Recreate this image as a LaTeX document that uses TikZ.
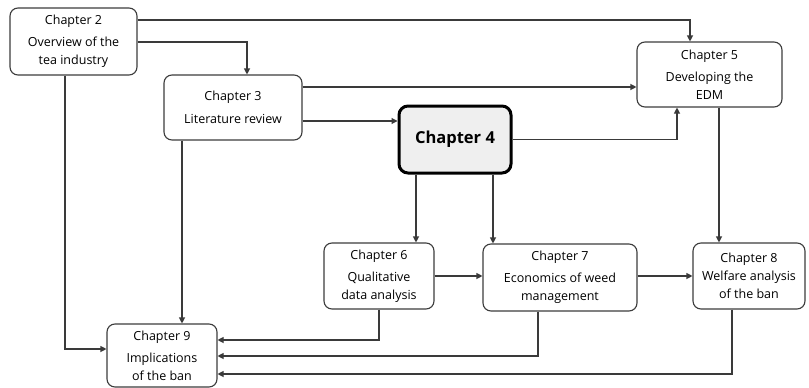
\documentclass[tikz,border=0pt]{standalone}
\usepackage{fontspec}
\setmainfont{Open Sans}
\usetikzlibrary{arrows.meta}
\definecolor{boxc}{HTML}{3C3C3C}
\definecolor{linec}{HTML}{3A3A3A}
\definecolor{hub}{HTML}{EFEFEF}
\begin{document}
\begin{tikzpicture}[x=1pt,y=-1pt,
  box/.style={draw=boxc, line width=1.1pt, rounded corners=8pt, fill=white, align=center, inner sep=0pt, font=\fontsize{12.5}{18}\selectfont},
  hubbox/.style={draw=black, line width=3pt, rounded corners=9pt, fill=hub, align=center, inner sep=0pt, font=\fontsize{16.5}{20}\selectfont\bfseries},
  arr/.style={draw=linec, line width=1.1pt, -{Triangle[length=6pt,width=6pt]}}]
\useasboundingbox[fill=white] (0,0) rectangle (809,388);
\node[box, minimum width=127pt, minimum height=67pt] (ch2) at (73.5,41.5) {Chapter 2\\[4pt]Overview of the\\tea industry};
\node[box, minimum width=138pt, minimum height=65pt] (ch3) at (233,107.5) {Chapter 3\\[5pt]Literature review};
\node[hubbox, minimum width=112pt, minimum height=67pt] (ch4) at (455,139.5) {Chapter 4};
\node[box, minimum width=145pt, minimum height=65pt] (ch5) at (709.5,74.5) {Chapter 5\\[4pt]Developing the\\EDM};
\node[box, minimum width=110pt, minimum height=66pt] (ch6) at (379,276) {Chapter 6\\[4pt]Qualitative\\data analysis};
\node[box, minimum width=154pt, minimum height=67pt] (ch7) at (560,277.5) {Chapter 7\\[4pt]Economics of weed\\management};
\node[box, minimum width=112pt, minimum height=66pt] (ch8) at (749,276) {Chapter 8\\Welfare analysis\\of the ban};
\node[box, minimum width=110pt, minimum height=63pt] (ch9) at (162,355.5) {Chapter 9\\[4pt]Implications\\of the ban};
\draw[arr] (ch2.east |- 0,20) -| (ch5.north -| 690,0);
\draw[arr] (ch2.east |- 0,42) -| (ch3.north -| 247,0);
\draw[arr] (ch2.south -| 65,0) |- (ch9.west |- 0,349);
\draw[arr] (ch3.east |- 0,87) -- (ch5.west |- 0,87);
\draw[arr] (ch3.east |- 0,121) -- (ch4.west |- 0,121);
\draw[arr] (ch3.south -| 182,0) -- (ch9.north -| 182,0);
\draw[arr] (ch4.east) -| (ch5.south -| 677,0);
\draw[arr] (ch4.south -| 416,0) -- (ch6.north -| 416,0);
\draw[arr] (ch4.south -| 493,0) -- (ch7.north -| 493,0);
\draw[arr] (ch5.south -| 719,0) -- (ch8.north -| 719,0);
\draw[arr] (ch6.east |- 0,276) -- (ch7.west |- 0,276);
\draw[arr] (ch7.east |- 0,276) -- (ch8.west |- 0,276);
\draw[arr] (ch6.south -| 379,0) |- (ch9.east |- 0,340);
\draw[arr] (ch7.south -| 538,0) |- (ch9.east |- 0,356);
\draw[arr] (ch8.south -| 732,0) |- (ch9.east |- 0,374);
\end{tikzpicture}
\end{document}
